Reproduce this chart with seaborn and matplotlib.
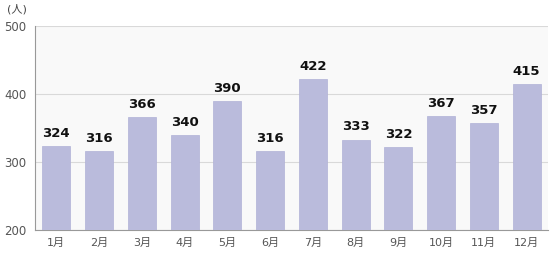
import matplotlib
matplotlib.use("Agg")
import matplotlib.pyplot as plt
import seaborn as sns
import pandas as pd

months = ["1月", "2月", "3月", "4月", "5月", "6月", "7月", "8月", "9月", "10月", "11月", "12月"]
values = [324, 316, 366, 340, 390, 316, 422, 333, 322, 367, 357, 415]
yticks = [200, 300, 400, 500]
unit_label = "(人)"

sns.set_theme(style="white")
plt.rcParams['font.family'] = ['DejaVu Sans', 'Noto Sans CJK JP']

df = pd.DataFrame({"month": months, "value": values})

fig = plt.figure(figsize=(5.5, 2.58), dpi=100)
ax = fig.add_axes([35/550, 1-230/258, 513/550, 204/258])
ax.set_facecolor("#f9f9f9")

sns.barplot(data=df, x="month", y="value", color="#babbdc", width=0.65,
            edgecolor="#b0b1d6", linewidth=0.5, saturation=1, ax=ax, zorder=3)

ax.set_ylim(200, 500)
ax.set_xlim(-0.5, len(months) - 0.5)
ax.set_yticks(yticks)
ax.set_yticklabels([str(t) for t in yticks], fontsize=8.5, color="#555555")
ax.yaxis.grid(True, color="#d9d9d9", linewidth=0.8, zorder=0)
ax.set_axisbelow(True)
ax.set_xlabel("")
ax.set_ylabel("")

for i, v in enumerate(values):
    ax.text(i, v + 9, str(v), ha="center", va="bottom", fontsize=9.5,
            fontweight="bold", color="#111111")

ax.set_xticks(range(len(months)))
ax.set_xticklabels(months, fontsize=8, color="#555555")
ax.tick_params(axis="x", length=0, pad=6)
ax.set_xticks([i + 0.5 for i in range(len(months))], minor=True)
ax.tick_params(axis="x", which="minor", length=3, color="#888888", direction="out")
ax.tick_params(axis="y", length=3, color="#888888", direction="out", pad=3)

for s in ["top", "right"]:
    ax.spines[s].set_visible(False)
ax.spines["left"].set_color("#999999")
ax.spines["bottom"].set_color("#999999")
ax.spines["left"].set_linewidth(0.8)
ax.spines["bottom"].set_linewidth(0.8)

fig.text(7/550, 1-9/258, unit_label, fontsize=8, color="#444444", va="center", ha="left")

fig.savefig("out.png", dpi=100)
